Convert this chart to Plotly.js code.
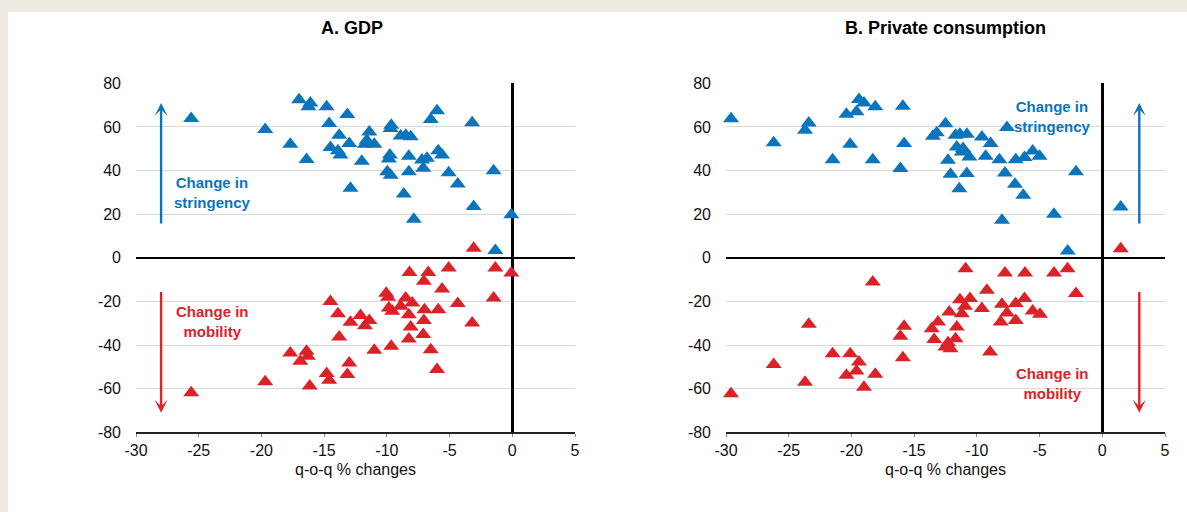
<!DOCTYPE html>
<html>
<head>
<meta charset="utf-8">
<script src="https://cdn.plot.ly/plotly-3.0.1.min.js"></script>
<style>html,body{margin:0;padding:0;background:#EDEADF;}#chart{width:1187px;height:512px;}</style>
</head>
<body>
<div id="chart"></div>
<script>
// Panel A: GDP
const gdpStringencyX = [-25.6,-19.7,-17.0,-16.1,-16.25,-14.8,-13.15,-14.6,-17.7,-16.4,-13.8,-14.5,-13.9,-13.7,-13.0,-12.9,-12.0,-11.4,-11.75,-11.0,-11.6,-9.65,-9.7,-8.9,-8.5,-8.1,-9.76,-9.84,-9.97,-9.7,-8.25,-8.25,-8.65,-7.85,-7.2,-6.8,-7.1,-6.5,-6.0,-5.9,-5.6,-5.07,-4.35,-3.2,-3.08,-1.49,-1.35,-0.08];
const gdpStringencyY = [63.9,58.8,72.5,71,69.2,69.2,65.7,61.6,52.1,45.1,56.2,50.6,49.1,47.1,52.4,31.9,44.3,57.7,52.1,52.1,53.9,60.8,59.3,55.8,56.2,55.5,47.1,45.3,39.5,37.9,46.6,39.5,29.3,17.7,44.8,45.6,41.0,63.4,67.4,49.1,47.1,39.0,33.8,61.9,23.5,39.9,3.3,19.7];
const gdpMobilityX = [-25.6,-19.7,-17.7,-16.9,-16.4,-16.3,-16.15,-14.8,-14.6,-14.5,-13.9,-13.8,-13.15,-13.0,-12.9,-12.1,-11.75,-11.4,-11.0,-10.05,-9.9,-9.84,-9.65,-9.57,-8.9,-8.5,-8.25,-7.98,-8.2,-8.1,-8.25,-7.1,-7.05,-7.0,-7.05,-6.7,-6.5,-6.0,-5.9,-5.6,-5.07,-4.35,-3.2,-1.35,-1.49,-0.08,-3.08];
const gdpMobilityY = [-61.9,-56.8,-43.6,-47.4,-42.8,-45.1,-58.8,-53.0,-56.1,-20.0,-25.6,-36.3,-53.5,-48.2,-29.6,-26.4,-31.1,-28.7,-42.4,-16.2,-18.1,-23.0,-40.5,-24.5,-22.2,-18.4,-26.1,-20.7,-6.7,-31.7,-37.2,-35.2,-28.7,-23.8,-10.8,-6.7,-42.1,-51.2,-23.8,-14.3,-4.7,-21.0,-29.9,-4.7,-18.4,-7.0,4.4];

// Panel B: Private consumption
const pcStringencyX = [-29.6,-26.2,-23.4,-23.7,-20.1,-21.5,-20.4,-19.6,-19.4,-19.0,-18.1,-18.3,-16.1,-15.8,-15.9,-12.5,-13.5,-13.2,-11.7,-11.35,-10.8,-11.6,-11.1,-10.6,-12.3,-12.1,-11.4,-10.8,-9.6,-8.9,-9.3,-8.2,-7.76,-7.6,-8.0,-6.96,-6.3,-6.9,-6.2,-5.55,-5.0,-3.85,-2.1,-2.76,1.47,-11.2];
const pcStringencyY = [63.8,52.7,61.8,58.5,52.1,45.0,65.8,66.9,72.6,71.0,69.2,45.0,40.9,52.4,69.5,61.5,55.7,57.3,56.2,56.6,56.6,50.8,50.1,46.2,44.7,38.3,31.7,38.6,55.4,52.4,46.6,45.0,38.9,59.7,17.2,33.7,28.7,45.0,46.0,49.0,46.6,20.0,39.4,3.1,23.3,48.5];
const pcMobilityX = [-29.6,-26.2,-23.4,-23.7,-21.5,-20.1,-20.4,-19.6,-19.4,-19.0,-18.1,-18.3,-16.1,-15.8,-15.9,-13.6,-13.4,-13.1,-12.5,-12.1,-12.2,-11.7,-11.6,-11.35,-11.2,-10.95,-10.55,-10.9,-9.6,-9.2,-8.95,-8.0,-8.1,-7.76,-7.6,-6.9,-6.9,-6.2,-6.16,-5.55,-4.97,-3.85,-2.77,-2.1,1.47,-12.3];
const pcMobilityY = [-62.3,-48.9,-30.5,-57.0,-44.0,-44.0,-53.9,-51.9,-47.8,-59.3,-53.4,-11.1,-36.0,-31.4,-45.8,-32.5,-37.5,-29.4,-40.9,-41.7,-24.9,-37.1,-31.7,-19.2,-25.6,-22.2,-18.7,-5.0,-23.3,-14.9,-43.2,-21.3,-29.4,-7.0,-25.3,-21.0,-28.7,-18.7,-7.0,-24.4,-25.9,-7.0,-5.0,-16.4,4.2,-39.0];

const titles = ['A. GDP', 'B. Private consumption'];
const xTickVals = [-30,-25,-20,-15,-10,-5,0,5];
const xTickText = ['-30','-25','-20','-15','-10','-5','0','5'];
const yTickVals = [-80,-60,-40,-20,0,20,40,60,80];
const yTickText = ['-80','-60','-40','-20','0','20','40','60','80'];
const xAxisTitle = 'q-o-q % changes';
const labelStringency = 'Change in<br>stringency';
const labelMobility = 'Change in<br>mobility';

const BLUE = '#0A75BC';
const RED = '#DC2229';
const FONT = 'Liberation Sans, Arial, sans-serif';

function sc(x, y, color, xa, ya) {
  return {x: x, y: y, type: 'scatter', mode: 'markers', xaxis: xa, yaxis: ya,
    marker: {symbol: 'triangle-up', size: 14, color: color}, hoverinfo: 'skip', showlegend: false, cliponaxis: false};
}

const data = [
  sc(gdpStringencyX, gdpStringencyY, BLUE, 'x', 'y'),
  sc(gdpMobilityX, gdpMobilityY, RED, 'x', 'y'),
  sc(pcStringencyX, pcStringencyY, BLUE, 'x2', 'y2'),
  sc(pcMobilityX, pcMobilityY, RED, 'x2', 'y2')
];

const yDom = [1 - 432.3/512, 1 - 83.3/512];
function xAxis(dom) {
  return {domain: dom, range: [-30, 5], tickvals: xTickVals, ticktext: xTickText, ticks: 'outside', ticklen: 3, tickcolor: '#888',
    showgrid: false, zeroline: true, zerolinecolor: '#000', zerolinewidth: 2.5,
    showline: true, linecolor: '#222', linewidth: 1.2, tickfont: {family: FONT, size: 16, color: '#111'},
    title: {text: xAxisTitle, font: {family: FONT, size: 16, color: '#111'}, standoff: 6}, fixedrange: true};
}
function yAxis(anchor) {
  return {domain: yDom, range: [-80, 80], tickvals: yTickVals, ticktext: yTickText, anchor: anchor, ticks: '', showgrid: true, gridcolor: '#D9D9D9', gridwidth: 1,
    zeroline: true, zerolinecolor: '#000', zerolinewidth: 2.5, showline: false,
    tickfont: {family: FONT, size: 16, color: '#111'}, ticklabelstandoff: 14, fixedrange: true};
}

const annotations = [
  {text: '<b>' + titles[0] + '</b>', xref: 'paper', yref: 'paper', x: 352/1187, y: 1 - 28/512, showarrow: false, font: {family: FONT, size: 18, color: '#000'}, xanchor: 'center', yanchor: 'middle'},
  {text: '<b>' + titles[1] + '</b>', xref: 'paper', yref: 'paper', x: 945/1187, y: 1 - 28/512, showarrow: false, font: {family: FONT, size: 18, color: '#000'}, xanchor: 'center', yanchor: 'middle'},
  {text: '<b>' + labelStringency + '</b>', xref: 'x', yref: 'y', x: -23.9, y: 30, showarrow: false, font: {family: FONT, size: 15, color: BLUE}, align: 'center'},
  {text: '<b>' + labelMobility + '</b>', xref: 'x', yref: 'y', x: -23.9, y: -29, showarrow: false, font: {family: FONT, size: 15, color: RED}, align: 'center'},
  {text: '<b>' + labelStringency + '</b>', xref: 'x2', yref: 'y2', x: -4, y: 65, showarrow: false, font: {family: FONT, size: 15, color: BLUE}, align: 'center'},
  {text: '<b>' + labelMobility + '</b>', xref: 'x2', yref: 'y2', x: -4, y: -57.5, showarrow: false, font: {family: FONT, size: 15, color: RED}, align: 'center'},
  {text: '', xref: 'x', yref: 'y', x: -28, y: 71, axref: 'x', ayref: 'y', ax: -28, ay: 15, showarrow: true, arrowhead: 3, arrowsize: 0.9, arrowwidth: 2.4, arrowcolor: BLUE},
  {text: '', xref: 'x', yref: 'y', x: -28, y: -71, axref: 'x', ayref: 'y', ax: -28, ay: -15, showarrow: true, arrowhead: 3, arrowsize: 0.9, arrowwidth: 2.4, arrowcolor: RED},
  {text: '', xref: 'x2', yref: 'y2', x: 2.95, y: 71, axref: 'x2', ayref: 'y2', ax: 2.95, ay: 15, showarrow: true, arrowhead: 3, arrowsize: 0.9, arrowwidth: 2.4, arrowcolor: BLUE},
  {text: '', xref: 'x2', yref: 'y2', x: 2.95, y: -71, axref: 'x2', ayref: 'y2', ax: 2.95, ay: -15, showarrow: true, arrowhead: 3, arrowsize: 0.9, arrowwidth: 2.4, arrowcolor: RED}
];

const layout = {
  width: 1187, height: 512,
  margin: {l: 0, r: 0, t: 0, b: 0},
  paper_bgcolor: '#EDEADF', plot_bgcolor: 'rgba(0,0,0,0)',
  showlegend: false,
  xaxis: xAxis([136/1187, 575/1187]),
  yaxis: yAxis('x'),
  xaxis2: xAxis([726/1187, 1165/1187]),
  yaxis2: yAxis('x2'),
  shapes: [
    {type: 'rect', xref: 'paper', yref: 'paper', x0: 8/1187, x1: 1.01, y0: -0.01, y1: 1 - 12/512, fillcolor: '#FFFFFF', line: {width: 0}, layer: 'below'}
  ],
  annotations: annotations
};
layout.xaxis2.anchor = 'y2';
layout.xaxis.anchor = 'y';

Plotly.newPlot('chart', data, layout, {displayModeBar: false, staticPlot: true});
</script>
</body>
</html>
